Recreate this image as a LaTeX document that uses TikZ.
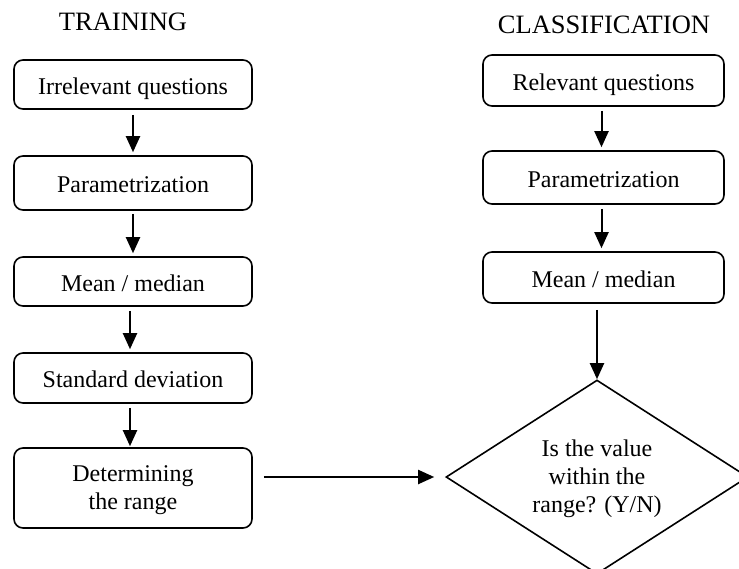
\documentclass[tikz,border=0pt]{standalone}
\usepackage{fontspec}
\setmainfont{Liberation Serif}
\usetikzlibrary{shapes.geometric,arrows.meta}
\begin{document}
\begin{tikzpicture}[x=1pt,y=-1pt,
  box/.style={draw,line width=1.6pt,rounded corners=9pt,minimum width=238pt,inner sep=0pt,align=center,font=\fontsize{24}{28}\selectfont},
  onebox/.style={box,text height=20pt,text depth=1pt},
  rbox/.style={onebox,minimum width=241pt},
  ttl/.style={font=\fontsize{26.5}{30}\selectfont,inner sep=0pt},
  arr/.style={line width=2pt,-{Triangle[length=16pt,width=14pt]}},
  dec/.style={draw,diamond,line width=1.6pt,minimum width=302pt,minimum height=194pt,inner sep=0pt,align=center,font=\fontsize{24}{28}\selectfont}]
\useasboundingbox (0,0) rectangle (739,568);
\node[ttl] (t1) at (123,22) {TRAINING};
\node[ttl] (t2) at (604,25) {CLASSIFICATION};
\node[onebox,minimum height=49pt] (a1) at (133,84.5) {Irrelevant questions};
\node[onebox,minimum height=54pt] (a2) at (133,183) {Parametrization};
\node[onebox,minimum height=49pt] (a3) at (133,281.5) {Mean / median};
\node[onebox,minimum height=50pt] (a4) at (133,378) {Standard deviation};
\node[box,minimum height=80pt] (a5) at (133,488) {};
\node[align=center,inner sep=0pt,font=\fontsize{24}{28}\selectfont] (a5t) at (133,490.5) {Determining\\the range};
\node[rbox,minimum height=51pt] (b1) at (603.5,80.5) {Relevant questions};
\node[rbox,minimum height=53pt] (b2) at (603.5,177.5) {Parametrization};
\node[rbox,minimum height=51pt] (b3) at (603.5,277.5) {Mean / median};
\node[dec] (d) at (597,477) {};
\node[align=center,inner sep=0pt,font=\fontsize{24}{28}\selectfont] (dt) at (597,479) {Is the value\\within the\\range? (Y/N)};
\draw[arr,shorten <=5pt,shorten >=3pt] (a1.south) -- (a2.north);
\draw[arr,shorten <=3pt,shorten >=3pt] (a2.south) -- (a3.north);
\draw[arr,shorten <=4pt,shorten >=3pt] ([xshift=-3pt]a3.south) -- ([xshift=-3pt]a4.north);
\draw[arr,shorten <=4pt,shorten >=1pt] ([xshift=-3pt]a4.south) -- ([xshift=-3pt]a5.north);
\draw[arr,shorten <=4pt,shorten >=3pt] ([xshift=-2pt]b1.south) -- ([xshift=-2pt]b2.north);
\draw[arr,shorten <=4pt,shorten >=3pt] ([xshift=-2pt]b2.south) -- ([xshift=-2pt]b3.north);
\draw[arr,shorten <=6pt] (d.north |- b3.south) -- (d.north);
\draw[arr,shorten <=11pt,shorten >=11pt] (a5.east |- d.west) -- (d.west);
\end{tikzpicture}
\end{document}
